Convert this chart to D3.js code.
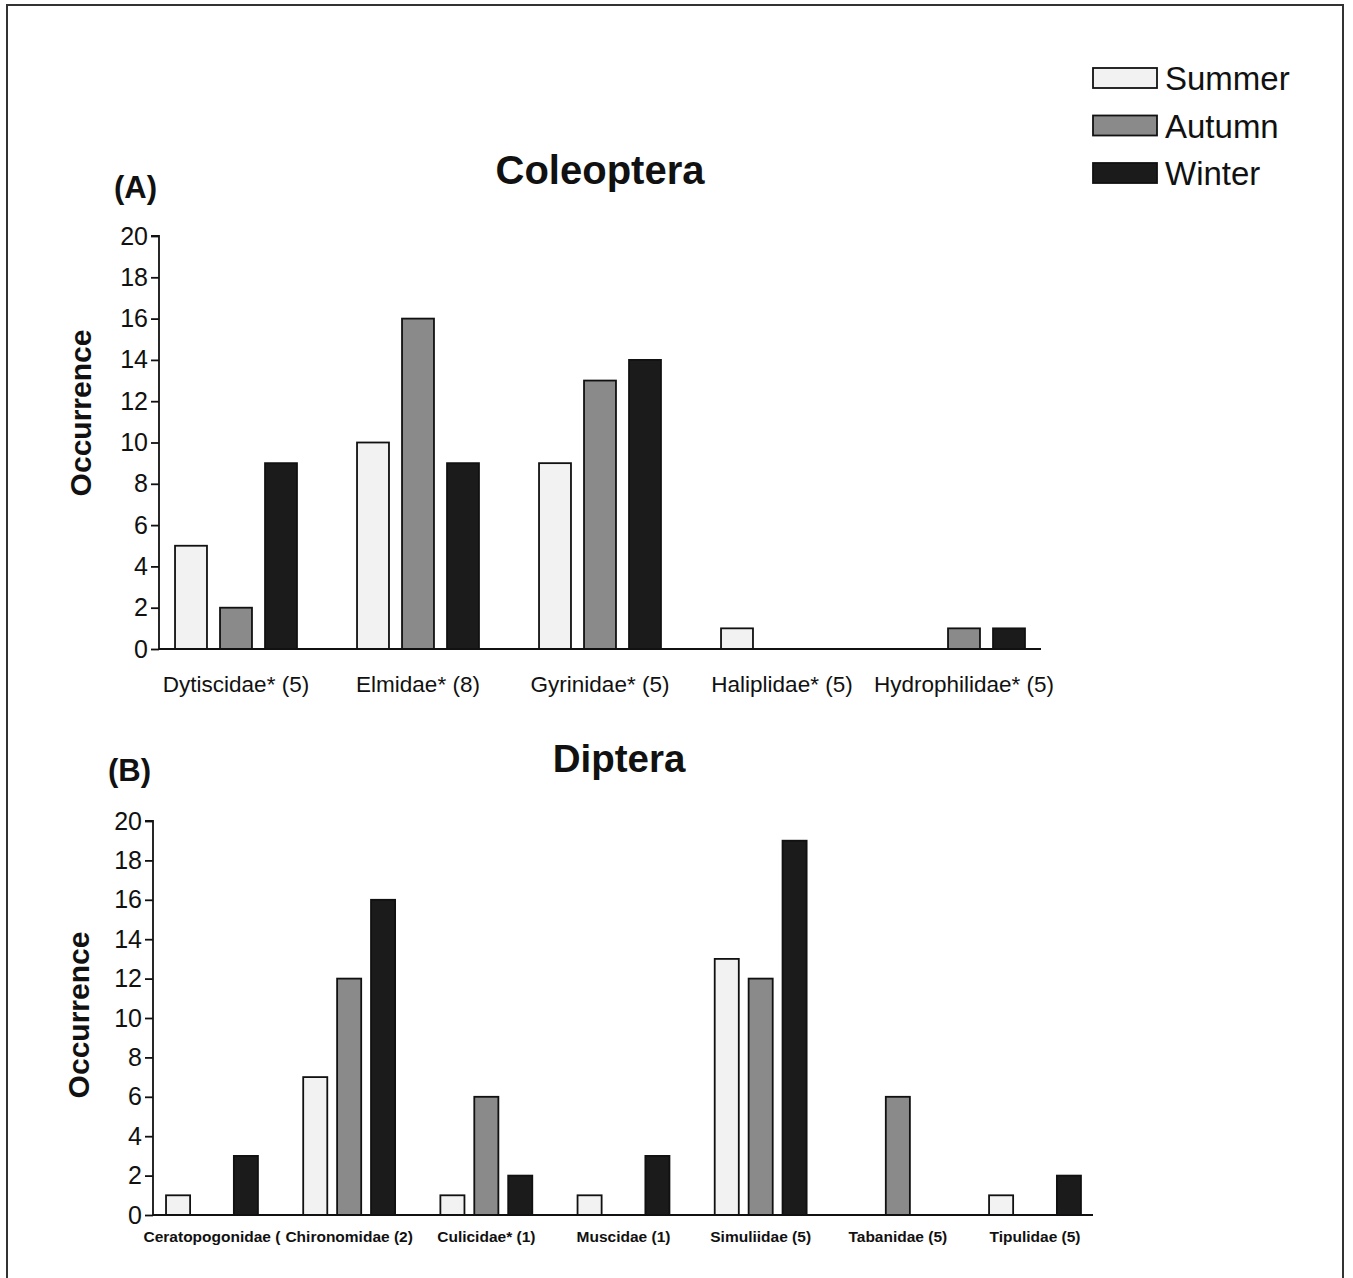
<!DOCTYPE html>
<html>
<head>
<meta charset="utf-8">
<script src="https://cdn.jsdelivr.net/npm/d3@7"></script>
<style>
  body { margin: 0; background: #fff; }
  svg { font-family: "Liberation Sans", Arial, sans-serif; }
</style>
</head>
<body>
<svg id="stage" width="1353" height="1278"></svg>
<script>
var svg = d3.select('#stage');

var seasons = ['Summer', 'Autumn', 'Winter'],
    seasonFill = ['#f2f2f2', '#8a8a8a', '#1b1b1b'];

var coleopteraFamilies = ['Dytiscidae* (5)', 'Elmidae* (8)', 'Gyrinidae* (5)', 'Haliplidae* (5)', 'Hydrophilidae* (5)'],
    coleopteraSummer = [5, 10, 9, 1, 0],
    coleopteraAutumn = [2, 16, 13, 0, 1],
    coleopteraWinter = [9, 9, 14, 0, 1];

var dipteraFamilies = ['Ceratopogonidae (', 'Chironomidae (2)', 'Culicidae* (1)', 'Muscidae (1)', 'Simuliidae (5)', 'Tabanidae (5)', 'Tipulidae (5)'],
    dipteraSummer = [1, 7, 1, 1, 13, 0, 1],
    dipteraAutumn = [0, 12, 6, 0, 12, 6, 0],
    dipteraWinter = [3, 16, 2, 3, 19, 0, 2];

var yTicks = [0, 2, 4, 6, 8, 10, 12, 14, 16, 18, 20];

// outer frame (bottom runs off the page)
svg.append('rect')
  .attr('x', 7).attr('y', 5)
  .attr('width', 1336).attr('height', 1300)
  .attr('fill', 'none')
  .attr('stroke', '#333')
  .attr('stroke-width', 2);

function drawPanel(opts) {
  var g = svg.append('g'),
      rows = opts.cats.map(function (c, i) {
        return { cat: c, vals: [opts.series[0][i], opts.series[1][i], opts.series[2][i]] };
      });

  var y = d3.scaleLinear().domain([0, 20]).range([opts.y0, opts.y20]);
  var x0 = d3.scaleBand().domain(opts.cats).range(opts.bandRange).paddingInner(0).paddingOuter(0);
  var half = x0.bandwidth() * 0.335;
  var x1 = d3.scaleBand().domain(seasons).range([-half, half]).paddingInner(0.29).paddingOuter(0);

  var groups = g.selectAll('g.grp')
    .data(rows)
    .enter().append('g')
      .attr('class', 'grp')
      .attr('transform', function (d) { return 'translate(' + (x0(d.cat) + x0.bandwidth() / 2) + ',0)'; });

  groups.selectAll('rect')
    .data(function (d) { return d.vals.map(function (v, i) { return { v: v, s: i }; }); })
    .enter().filter(function (d) { return d.v > 0; })
    .append('rect')
      .attr('x', function (d) { return x1(seasons[d.s]); })
      .attr('width', x1.bandwidth())
      .attr('y', function (d) { return y(d.v); })
      .attr('height', function (d) { return y(0) - y(d.v); })
      .attr('fill', function (d) { return seasonFill[d.s]; })
      .attr('stroke', '#111')
      .attr('stroke-width', 1.8);

  // y axis
  var yAxis = d3.axisLeft(y).tickValues(yTicks).tickSize(8).tickPadding(3).tickFormat(d3.format('d'));
  var ya = g.append('g')
    .attr('transform', 'translate(' + opts.axisX + ',0)')
    .call(yAxis);
  ya.select('.domain').attr('stroke', '#111').attr('stroke-width', 1.8).attr('d', 'M-8,' + y(20) + 'H0V' + y(0));
  ya.selectAll('.tick line').attr('stroke', '#111').attr('stroke-width', 1.8);
  ya.selectAll('.tick text')
    .attr('font-size', 25)
    .attr('fill', '#111')
    .attr('font-family', '"Liberation Sans", Arial, sans-serif');

  // x baseline
  g.append('line')
    .attr('x1', opts.axisX).attr('x2', opts.axisEnd)
    .attr('y1', y(0)).attr('y2', y(0))
    .attr('stroke', '#111').attr('stroke-width', 1.8);

  // category labels
  g.selectAll('text.cat')
    .data(opts.cats)
    .enter().append('text')
      .attr('class', 'cat')
      .attr('x', function (d) { return x0(d) + x0.bandwidth() / 2; })
      .attr('y', opts.labelY)
      .attr('text-anchor', 'middle')
      .attr('font-size', opts.labelSize)
      .attr('font-weight', opts.labelWeight)
      .attr('fill', '#111')
      .text(function (d) { return d; });

  // titles
  g.append('text')
    .attr('x', opts.titleX).attr('y', opts.titleY)
    .attr('text-anchor', 'middle')
    .attr('font-size', opts.titleSize).attr('font-weight', 'bold').attr('fill', '#111')
    .text(opts.title);

  g.append('text')
    .attr('x', opts.tagX).attr('y', opts.tagY)
    .attr('font-size', 31).attr('font-weight', 'bold').attr('fill', '#111')
    .text(opts.tag);

  g.append('text')
    .attr('transform', 'translate(' + opts.yLabelX + ',' + opts.yLabelY + ') rotate(-90)')
    .attr('text-anchor', 'middle')
    .attr('font-size', 30).attr('font-weight', 'bold').attr('fill', '#111')
    .text('Occurrence');
}

drawPanel({
  cats: coleopteraFamilies,
  series: [coleopteraSummer, coleopteraAutumn, coleopteraWinter],
  y0: 649, y20: 236,
  bandRange: [145, 1055],
  axisX: 159, axisEnd: 1041,
  labelY: 692, labelSize: 22.5, labelWeight: 'normal',
  title: 'Coleoptera', titleSize: 40, titleX: 600, titleY: 184,
  tag: '(A)', tagX: 114, tagY: 198,
  yLabelX: 91, yLabelY: 413
});

drawPanel({
  cats: dipteraFamilies,
  series: [dipteraSummer, dipteraAutumn, dipteraWinter],
  y0: 1215, y20: 821,
  bandRange: [143.4, 1103.6],
  axisX: 153, axisEnd: 1093,
  labelY: 1242, labelSize: 15.5, labelWeight: 'bold',
  title: 'Diptera', titleSize: 38.5, titleX: 619, titleY: 772,
  tag: '(B)', tagX: 108, tagY: 781,
  yLabelX: 89, yLabelY: 1015
});

// legend
var legend = svg.append('g');
var legendRows = legend.selectAll('g')
  .data(seasons)
  .enter().append('g')
    .attr('transform', function (d, i) { return 'translate(1093,' + (68 + i * 47.5) + ')'; });

legendRows.append('rect')
  .attr('width', 64).attr('height', 20)
  .attr('fill', function (d, i) { return seasonFill[i]; })
  .attr('stroke', '#111').attr('stroke-width', 1.8);

legendRows.append('text')
  .attr('x', 72).attr('y', 22)
  .attr('font-size', 33).attr('fill', '#111')
  .text(function (d) { return d; });
</script>
</body>
</html>
